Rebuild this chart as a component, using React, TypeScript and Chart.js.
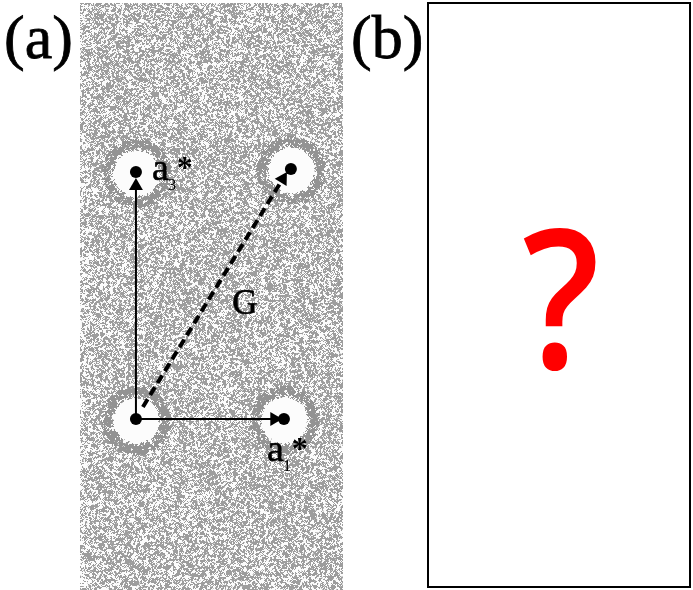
import React, { useEffect, useRef } from 'react';
import { Chart, registerables } from 'chart.js';

Chart.register(...registerables);

// Reciprocal-lattice spots of panel (a), in units of a1* (x) and a3* (y)
const spotNames = ['000', 'a1*', 'a3*', 'G'];
const spotX = [0, 1, 0, 1.047];
const spotY = [0, 0, 1, 1.012];

// Vectors drawn from the origin spot (start point and arrow-head centre)
const vectorNames = ['a1*', 'a3*', 'G'];
const vectorStartX = [0, 0, 0.047];
const vectorStartY = [0, 0, 0.049];
const vectorEndX = [0.935, 0, 0.992];
const vectorEndY = [0, 0.943, 0.972];

// Visible range of panel (a)
const xRange = [-0.378, 1.399];
const yRange = [-0.692, 1.684];

const panelLabels = ['(a)', '(b)'];
const unknownText = '?';

const SERIF = '"Liberation Serif", "DejaVu Serif", serif';

function probit(d: number) {
  const p = Math.min(0.999, Math.max(0.001, d));
  return Math.log(p / (1 - p)) / 1.7;
}

function buildTexture(area: any, centers: { x: number; y: number }[]) {
  const w = Math.round(area.right - area.left);
  const h = Math.round(area.bottom - area.top);
  const W = w + 2, H = h + 2;
  const raw = new Float32Array(W * H);
  let seed = 987654321;
  for (let i = 0; i < raw.length; i++) {
    seed = (Math.imul(seed, 1664525) + 1013904223) >>> 0;
    raw[i] = seed / 4294967296;
  }
  const off = document.createElement('canvas');
  off.width = w; off.height = h;
  const octx = off.getContext('2d')!;
  const img = octx.createImageData(w, h);
  const base = 0.58;
  const sd = 0.14;
  for (let y = 0; y < h; y++) {
    for (let x = 0; x < w; x++) {
      let s = 0;
      for (let dy = 0; dy < 3; dy++) {
        const row = (y + dy) * W + x;
        s += raw[row] + raw[row + 1] + raw[row + 2];
      }
      const b = 0.4 * raw[(y + 1) * W + x + 1] + 0.6 * (s / 9);
      let d = base;
      if (x < 16) d = 0.4 + (base - 0.4) * (x / 16);
      const gx = x + area.left, gy = y + area.top;
      let ring = false;
      for (const c of centers) {
        const r = Math.hypot(gx - c.x, gy - c.y - 1);
        if (r < 22) { d = 0.0; }
        else if (r < 25.5) { d = Math.min(d, 0.03 + ((r - 22) / 3.5) * 0.85); ring = true; }
        else if (r < 32) { d = 0.9; ring = true; }
        else if (r < 35) { d = Math.max(d, 0.9 + (base - 0.9) * (r - 32) / 3); ring = true; }
      }
      let v = 252;
      if (d > 0.001) {
        const t = 0.5 + sd * probit(d);
        const g = Math.min(1, Math.max(0, (t - b) / 0.05 + 0.5));
        const dark = ring ? 105 : 95;
        v = 252 - dark * g;
      }
      const k = (y * w + x) * 4;
      img.data[k] = v; img.data[k + 1] = v; img.data[k + 2] = v; img.data[k + 3] = 255;
    }
  }
  octx.putImageData(img, 0, 0);
  return off;
}

export default function App() {
  const ref = useRef<HTMLCanvasElement>(null);

  useEffect(() => {
    const canvas = ref.current!;
    let texture: HTMLCanvasElement | null = null;

    const background = {
      id: 'diffractionBackground',
      beforeDatasetsDraw(chart: any) {
        const { ctx, chartArea: a, scales } = chart;
        if (!texture) {
          const centers = spotX.map((x, i) => ({
            x: scales.x.getPixelForValue(x),
            y: scales.y.getPixelForValue(spotY[i]),
          }));
          texture = buildTexture(a, centers);
        }
        ctx.save();
        ctx.drawImage(texture, a.left, a.top);
        ctx.restore();
      },
    };

    const annotations = {
      id: 'diffractionLabels',
      afterDatasetsDraw(chart: any) {
        const { ctx, scales } = chart;
        const sx = (v: number) => scales.x.getPixelForValue(v);
        const sy = (v: number) => scales.y.getPixelForValue(v);
        ctx.save();
        ctx.fillStyle = '#000';
        ctx.strokeStyle = '#000';
        ctx.lineWidth = 0.6;
        ctx.textAlign = 'left';
        ctx.textBaseline = 'alphabetic';

        const vecLabel = (spotIdx: number, sub: string, ax: number, ay: number) => {
          const px = sx(spotX[spotIdx]);
          const py = sy(spotY[spotIdx]);
          ctx.font = `38px ${SERIF}`;
          ctx.fillText('a', px + ax, py + ay);
          ctx.strokeText('a', px + ax, py + ay);
          const aw = ctx.measureText('a').width;
          ctx.font = `17px ${SERIF}`;
          ctx.fillText(sub, px + ax + aw - 1, py + ay + 10);
          ctx.font = `bold 32px ${SERIF}`;
          ctx.fillText('*', px + ax + aw + 8, py + ay - 2);
        };
        vecLabel(2, '3', 16, 8);
        vecLabel(1, '1', -17, 42);

        // label of G next to the middle of its vector
        const mx = (sx(vectorStartX[2]) + sx(vectorEndX[2])) / 2;
        const my = (sy(vectorStartY[2]) + sy(vectorEndY[2])) / 2;
        ctx.font = `35px ${SERIF}`;
        ctx.textAlign = 'center';
        ctx.fillText(vectorNames[2], mx + 32, my + 21);
        ctx.strokeText(vectorNames[2], mx + 32, my + 21);
        ctx.restore();
      },
      afterDraw(chart: any) {
        const { ctx } = chart;
        ctx.save();
        ctx.fillStyle = '#000';
        ctx.strokeStyle = '#000';
        ctx.lineWidth = 0.8;
        ctx.font = `62px ${SERIF}`;
        ctx.textAlign = 'left';
        ctx.textBaseline = 'alphabetic';
        ctx.fillText(panelLabels[0], 4, 58);
        ctx.strokeText(panelLabels[0], 4, 58);
        ctx.fillText(panelLabels[1], 351, 58);
        ctx.strokeText(panelLabels[1], 351, 58);

        // panel (b)
        ctx.lineWidth = 2;
        ctx.strokeRect(428, 3, 262, 584);
        ctx.fillStyle = '#ff0000';
        ctx.font = `600 194px "Open Sans", "Noto Sans", sans-serif`;
        ctx.textAlign = 'center';
        ctx.translate(561, 368);
        ctx.scale(0.88, 1);
        ctx.fillText(unknownText, 0, 0);
        ctx.restore();
      },
    };

    const rotationFor = (i: number) => (c: any) => {
      const ch = c.chart;
      const dx = ch.scales.x.getPixelForValue(vectorEndX[i]) - ch.scales.x.getPixelForValue(vectorStartX[i]);
      const dy = ch.scales.y.getPixelForValue(vectorEndY[i]) - ch.scales.y.getPixelForValue(vectorStartY[i]);
      return (Math.atan2(dx, -dy) * 180) / Math.PI;
    };

    const widths = [2, 2, 4];
    const dashes = [[], [], [9, 5]];

    const vectorSets = vectorNames.map((name, i) => ({
      label: name,
      data: [
        { x: vectorStartX[i], y: vectorStartY[i] },
        { x: vectorEndX[i], y: vectorEndY[i] },
      ],
      showLine: true,
      borderColor: '#000',
      borderWidth: widths[i],
      borderDash: dashes[i],
      borderCapStyle: 'butt',
      pointRadius: [0, 8],
      pointStyle: 'triangle',
      pointBackgroundColor: '#000',
      pointBorderColor: '#000',
      pointBorderWidth: 0,
      pointRotation: rotationFor(i),
      order: 1,
    }));

    const chart = new Chart(canvas, {
      type: 'scatter',
      data: {
        datasets: [
          {
            label: 'spots',
            data: spotX.map((x, i) => ({ x, y: spotY[i], name: spotNames[i] })),
            pointRadius: 6,
            pointBackgroundColor: '#000',
            pointBorderWidth: 0,
            order: 0,
          },
          ...vectorSets,
        ] as any,
      },
      options: {
        animation: false,
        responsive: false,
        devicePixelRatio: 1,
        events: [],
        layout: { padding: { left: 80, top: 3, right: 350, bottom: 0 }, autoPadding: false },
        scales: {
          x: { type: 'linear', min: xRange[0], max: xRange[1], display: false },
          y: { type: 'linear', min: yRange[0], max: yRange[1], display: false },
        },
        plugins: { legend: { display: false }, tooltip: { enabled: false }, title: { display: false } },
      } as any,
      plugins: [background, annotations],
    });
    return () => chart.destroy();
  }, []);

  return (
    <div style={{ position: 'fixed', left: 0, top: 0, width: 693, height: 590, background: '#fff' }}>
      <canvas ref={ref} width={693} height={590} style={{ display: 'block', width: 693, height: 590 }} />
    </div>
  );
}
